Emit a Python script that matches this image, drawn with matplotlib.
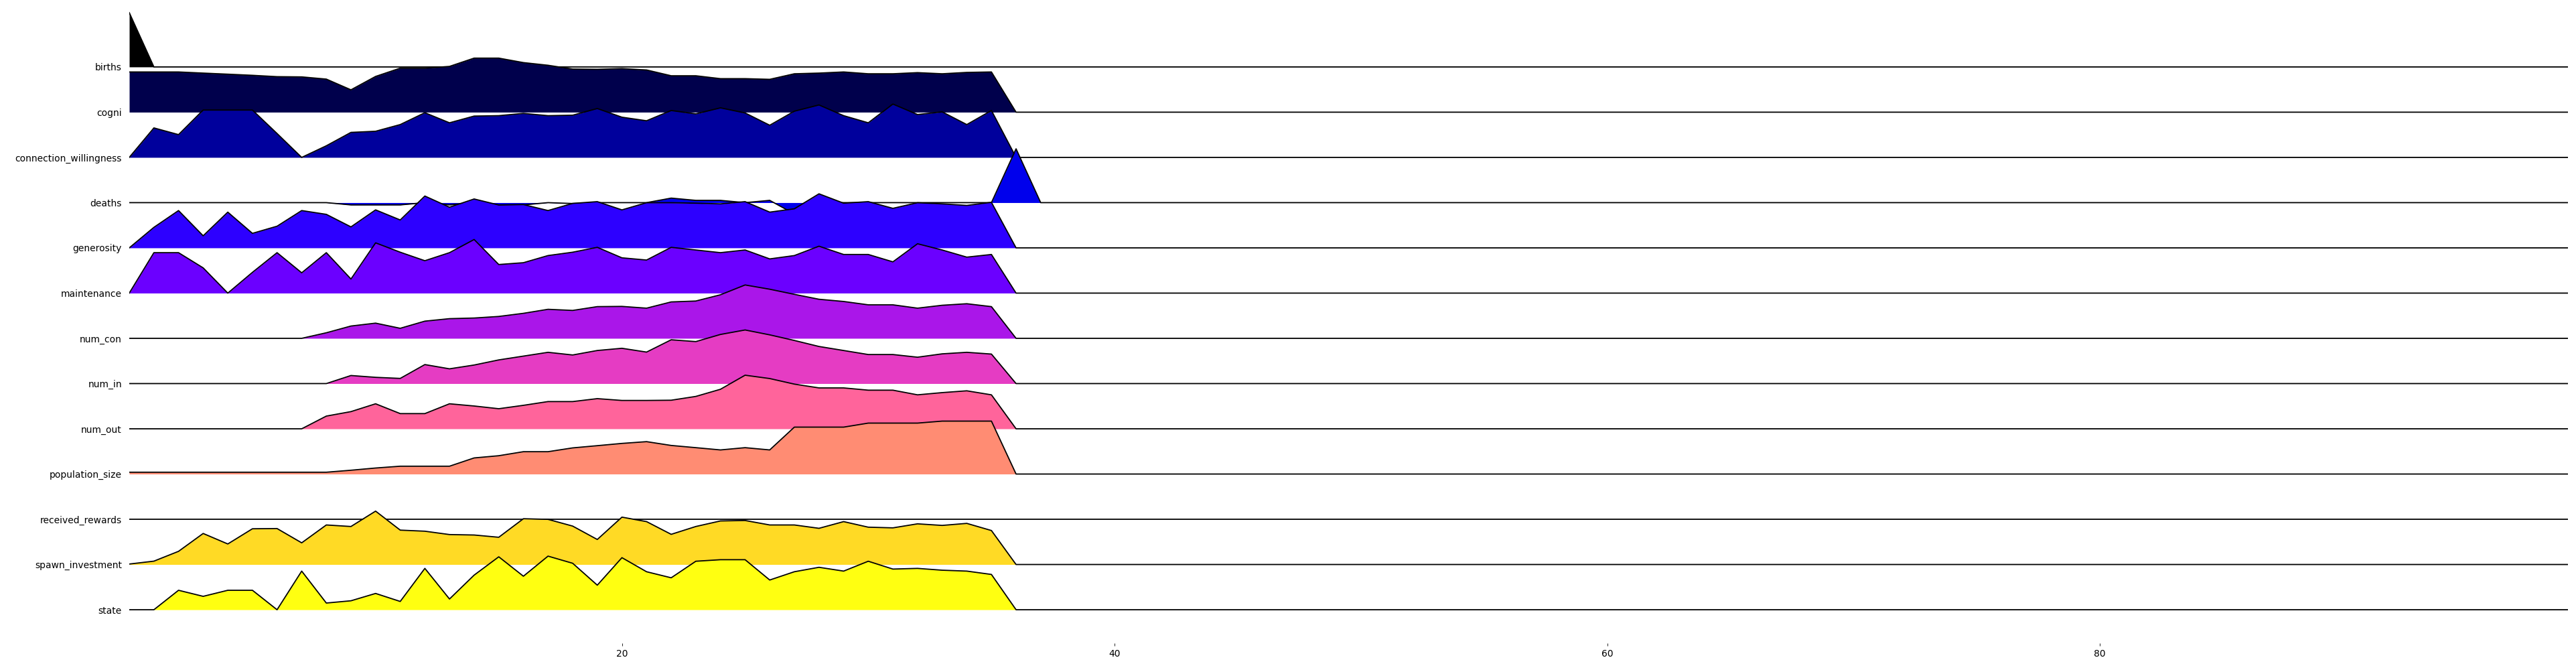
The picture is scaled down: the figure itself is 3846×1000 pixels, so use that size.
import matplotlib
matplotlib.use("Agg")
import matplotlib.pyplot as plt
import numpy as np

# ridge labels, top to bottom
labels = ["births", "cogni", "connection_willingness", "deaths", "generosity",
          "maintenance", "num_con", "num_in", "num_out", "population_size",
          "received_rewards", "spawn_investment", "state"]

# values per step (in ridge-height units); steps after the
# listed ones are all zero up to step 99
births = [1.2]
cogni = [0.889, 0.889, 0.889, 0.864, 0.840, 0.815, 0.785, 0.780, 0.731, 0.494,
         0.790, 0.973, 0.973, 1.012, 1.195, 1.195, 1.096, 1.037, 0.953, 0.948,
         0.963, 0.933, 0.805, 0.805, 0.741, 0.741, 0.726, 0.849, 0.864, 0.889,
         0.849, 0.849, 0.874, 0.849, 0.879, 0.889]
connection_willingness = [0.0, 0.652, 0.504, 1.047, 1.047, 1.047, 0.528, 0.0, 0.257, 0.553,
                          0.578, 0.726, 0.988, 0.765, 0.914, 0.923, 0.973, 0.923, 0.933, 1.081,
                          0.889, 0.810, 1.037, 0.963, 1.096, 0.983, 0.711, 1.022, 1.160, 0.923,
                          0.765, 1.180, 0.948, 1.007, 0.726, 1.037]
deaths = [0, 0, 0, 0, 0, 0, 0, 0, 0, -0.05,
          -0.05, -0.05, 0, -0.05, 0, -0.05, -0.05, 0, -0.02, 0,
          0, 0, 0.1, 0.05, 0.05, 0, 0.05, -0.25, 0, 0,
          0, 0, 0, 0, 0, 0, 1.19]
generosity = [0.0, 0.454, 0.825, 0.267, 0.790, 0.321, 0.479, 0.825, 0.741, 0.464,
              0.840, 0.617, 1.146, 0.899, 1.081, 0.948, 0.958, 0.825, 0.983, 1.022,
              0.840, 0.998, 0.998, 0.988, 0.973, 1.022, 0.790, 0.864, 1.195, 0.988,
              1.022, 0.874, 0.998, 0.973, 0.938, 1.007]
maintenance = [0.0, 0.894, 0.894, 0.558, 0.0, 0.459, 0.894, 0.449, 0.894, 0.311,
               1.111, 0.904, 0.716, 0.894, 1.185, 0.632, 0.672, 0.830, 0.904, 1.012,
               0.780, 0.731, 1.012, 0.953, 0.894, 0.953, 0.756, 0.830, 1.037, 0.854,
               0.854, 0.691, 1.091, 0.953, 0.795, 0.854]
num_con = [0, 0, 0, 0, 0, 0, 0, 0, 0.123, 0.272,
           0.336, 0.222, 0.380, 0.435, 0.449, 0.484, 0.553, 0.642, 0.617, 0.701,
           0.706, 0.667, 0.805, 0.825, 0.963, 1.180, 1.086, 0.973, 0.864, 0.815,
           0.741, 0.741, 0.667, 0.731, 0.765, 0.701]
num_in = [0, 0, 0, 0, 0, 0, 0, 0, 0, 0.178,
          0.138, 0.114, 0.420, 0.326, 0.410, 0.523, 0.607, 0.691, 0.632, 0.731,
          0.780, 0.696, 0.968, 0.928, 1.086, 1.185, 1.077, 0.953, 0.820, 0.731,
          0.642, 0.642, 0.583, 0.657, 0.691, 0.652]
num_out = [0, 0, 0, 0, 0, 0, 0, 0, 0.281, 0.380,
           0.553, 0.336, 0.336, 0.553, 0.504, 0.444, 0.519, 0.602, 0.602, 0.667,
           0.627, 0.627, 0.632, 0.716, 0.874, 1.185, 1.111, 0.988, 0.904, 0.904,
           0.854, 0.854, 0.751, 0.800, 0.840, 0.751]
population_size = [0.04, 0.04, 0.04, 0.04, 0.04, 0.04, 0.04, 0.04, 0.04, 0.084,
                   0.133, 0.173, 0.173, 0.173, 0.356, 0.405, 0.494, 0.494, 0.578, 0.627,
                   0.677, 0.716, 0.632, 0.583, 0.533, 0.583, 0.533, 1.037, 1.037, 1.037,
                   1.126, 1.126, 1.126, 1.170, 1.170, 1.170]
received_rewards = [0.0]
spawn_investment = [0.01, 0.074, 0.291, 0.686, 0.454, 0.790, 0.795, 0.479, 0.874, 0.840,
                    1.180, 0.760, 0.736, 0.662, 0.652, 0.602, 1.012, 0.998, 0.849, 0.553,
                    1.047, 0.948, 0.667, 0.840, 0.963, 0.973, 0.874, 0.874, 0.800, 0.948,
                    0.825, 0.810, 0.899, 0.864, 0.909, 0.751]
state = [0.0, 0.0, 0.430, 0.296, 0.430, 0.430, 0.0, 0.854, 0.148, 0.198,
         0.360, 0.183, 0.914, 0.237, 0.765, 1.170, 0.741, 1.185, 1.027, 0.543,
         1.151, 0.840, 0.706, 1.072, 1.106, 1.106, 0.657, 0.840, 0.938, 0.854,
         1.072, 0.899, 0.914, 0.874, 0.854, 0.780]

series = [births, cogni, connection_willingness, deaths, generosity, maintenance,
          num_con, num_in, num_out, population_size, received_rewards,
          spawn_investment, state]
n_steps = 100

fig = plt.figure(figsize=(38.46, 10), dpi=100)
ax = fig.add_axes([193 / 3846, 0.04, (3834 - 193) / 3846, 0.96])
cmap = plt.get_cmap("gnuplot2")
n = len(labels)

for i, vals in enumerate(series):
    y = np.zeros(n_steps)
    y[:len(vals)] = vals
    x = np.arange(n_steps)
    base = -i
    col = cmap(i / n)
    ax.fill_between(x, base, base + y, color=col, lw=0, zorder=2 * i + 1)
    ax.plot(x, base + y, color="black", lw=1.3, zorder=2 * i + 2)

ax.set_xlim(0, 99)
ax.set_ylim(-12.74, 1.48)
ax.set_yticks([-i for i in range(n)])
ax.set_yticklabels(labels, fontsize=10)
ax.tick_params(axis="y", length=0, pad=8)
ax.set_xticks([20, 40, 60, 80])
ax.tick_params(axis="x", labelsize=10, length=3, width=0.6)
for s in ax.spines.values():
    s.set_visible(False)

fig.savefig("out.png", dpi=100)
